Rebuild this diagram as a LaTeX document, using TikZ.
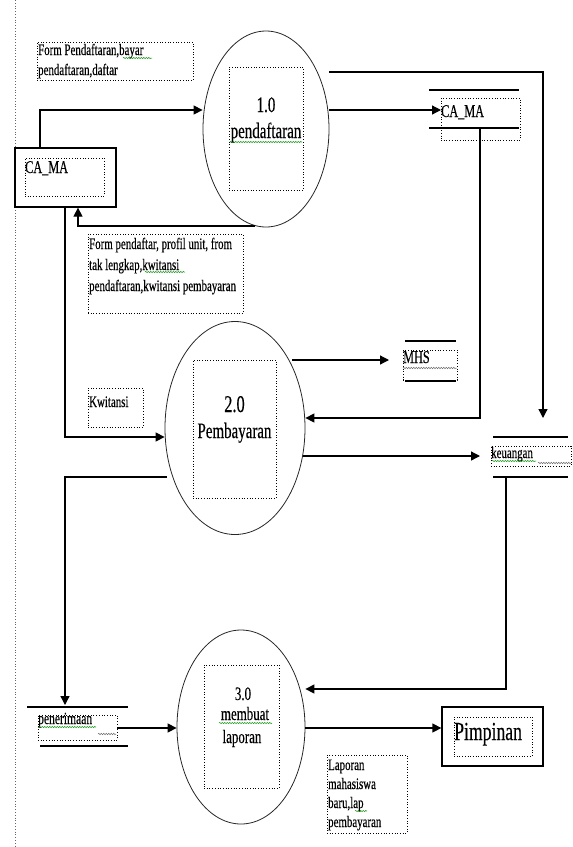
\documentclass[tikz,border=0pt]{standalone}
\usepackage{fontspec}
\setmainfont[FakeStretch=0.68,FakeBold=0.3]{Liberation Serif}
\usetikzlibrary{arrows.meta,shapes.geometric,decorations.pathmorphing}
\begin{document}
\begin{tikzpicture}[x=1pt,y=-1pt,
  flow/.style={line width=1.3pt,-{Triangle[length=9pt,width=9pt]}},
  proc/.style={ellipse,draw=black!85,line width=0.8pt,inner sep=0pt},
  dbox/.style={draw,dotted,line width=0.7pt,inner sep=0pt,rectangle},
  ent/.style={draw,line width=1.3pt,inner sep=0pt,rectangle},
  tl/.style={anchor=base west,inner sep=0pt,font=\fontsize{16}{20}\selectfont},
  tc/.style={anchor=base,inner sep=0pt},
  stline/.style={line width=1.3pt},
  spell/.style={draw=green!55!black,line width=0.5pt,decorate,decoration={snake,segment length=2.5pt,amplitude=0.6pt}},
  gram/.style={draw=black!55,line width=0.5pt,decorate,decoration={snake,segment length=2.5pt,amplitude=0.8pt}}
]
\useasboundingbox (0,0) rectangle (573,847);
% left dotted margin line
\draw[dotted,line width=0.8pt,black!60] (15,0) -- (15,847);

% ---------- processes ----------
\node[proc,minimum width=126pt,minimum height=196pt] (p1) at (266,129) {};
\node[dbox,minimum width=74pt,minimum height=123pt] (p1in) at (266,128.5) {};
\node[tc,font=\fontsize{22}{26}\selectfont] (p1a) at (266,112) {1.0};
\node[tc,font=\fontsize{22}{26}\selectfont] (p1b) at (266,138) {pendaftaran};
\path[spell] (230,142) -- (302,142);

\node[proc,minimum width=140pt,minimum height=213pt] (p2) at (235,428) {};
\node[dbox,minimum width=83pt,minimum height=138pt] (p2in) at (234.5,429) {};
\node[tc,font=\fontsize{24}{28}\selectfont] (p2a) at (234.5,412) {2.0};
\node[tc,font=\fontsize{22}{28}\selectfont] (p2b) at (234.5,438) {Pembayaran};

\node[proc,minimum width=128pt,minimum height=194pt] (p3) at (241,727) {};
\node[dbox,minimum width=75pt,minimum height=123pt] (p3in) at (241.5,726.5) {};
\node[tc,font=\fontsize{19}{22}\selectfont] (p3a) at (243,700) {3.0};
\node[tc,font=\fontsize{19}{22}\selectfont] (p3b) at (245,720) {membuat};
\node[tc,font=\fontsize{19}{22}\selectfont] (p3c) at (242,743) {laporan};
\path[spell] (219,723) -- (272,723);

% ---------- external entities ----------
\node[ent,minimum width=101pt,minimum height=59pt] (ca) at (65.5,177.5) {};
\node[dbox,minimum width=79pt,minimum height=38pt] (cain) at (64.5,177) {};
\node[tl,font=\fontsize{18}{20}\selectfont] (cat) at (25,173) {CA\_MA};

\node[ent,minimum width=101pt,minimum height=59pt] (pim) at (492.5,736.5) {};
\node[dbox,minimum width=78pt,minimum height=39pt] (pimin) at (493,736.5) {};
\node[tl,font=\fontsize{26}{28}\selectfont] (pimt) at (454,740) {Pimpinan};

% ---------- data stores ----------
% CA_MA store
\node[dbox,minimum width=79pt,minimum height=42pt] (s1) at (480.5,119) {};
\node[tl,font=\fontsize{18}{20}\selectfont] (s1t) at (441,117) {CA\_MA};
\draw[stline] (429,90) -- (519,90);
\draw[stline] (429,128) -- (519,128);
% MHS store
\node[dbox,minimum width=54pt,minimum height=30pt] (s2) at (430,365) {};
\node[tl,font=\fontsize{18}{20}\selectfont] (s2t) at (403,363) {MHS};
\path[gram] (403,368) -- (457,368);
\draw[stline] (405,341) -- (456,341);
\draw[stline] (405,381) -- (456,381);
% keuangan store
\node[dbox,minimum width=80pt,minimum height=20pt] (s3) at (531,456) {};
\node[tl,font=\fontsize{16}{18}\selectfont] (s3t) at (491,458) {keuangan};
\path[spell] (492,461) -- (536,461);
\path[gram] (538,463) -- (571,463);
\draw[stline] (493,437) -- (568,437);
\draw[stline] (493,477) -- (568,477);
% penerimaan store
\node[dbox,minimum width=79pt,minimum height=25pt] (s4) at (77.5,727.5) {};
\node[tl,font=\fontsize{17}{18}\selectfont] (s4t) at (38,724) {penerimaan};
\path[spell] (39,727) -- (96,727);
\path[gram] (98,734) -- (116,734);
\draw[stline] (27,707) -- (128,707);
\draw[stline] (40,746) -- (128,746);

% ---------- flow labels ----------
\node[dbox,minimum width=156pt,minimum height=38pt] (l1) at (115,61) {};
\node[tl] (l1a) at (38,55) {Form Pendaftaran,bayar};
\node[tl] (l1b) at (38,75) {pendaftaran,daftar};
\path[spell] (123,58) -- (152,58);

\node[dbox,minimum width=155pt,minimum height=79pt] (l2) at (165.5,273.5) {};
\node[tl] (l2a) at (89,249) {Form pendaftar, profil unit, from};
\node[tl] (l2b) at (89,270) {tak lengkap,kwitansi};
\node[tl] (l2c) at (89,291) {pendaftaran,kwitansi pembayaran};
\path[spell] (145,272) -- (185,272);

\node[dbox,minimum width=55pt,minimum height=39pt] (l3) at (115.5,407.5) {};
\node[tl] (l3a) at (89,407) {Kwitansi};

\node[dbox,minimum width=80pt,minimum height=78pt] (l4) at (367,794) {};
\node[tl] (l4a) at (328,770) {Laporan};
\node[tl] (l4b) at (328,789) {mahasiswa};
\node[tl] (l4c) at (328,808) {baru,lap};
\node[tl] (l4d) at (328,827) {pembayaran};
\path[spell] (355,811) -- (367,811);

% ---------- coordinates ----------
\coordinate (c1) at (40,110);
\coordinate (c1e) at (441,110);
\coordinate (c2s) at (255,226);
\coordinate (c2) at (78,226);
\coordinate (c3s) at (329,72);
\coordinate (c3a) at (543,72);
\coordinate (c3e) at (543,418);
\coordinate (c5s) at (480,128);
\coordinate (c5) at (480,418);
\coordinate (c6) at (65,437);
\coordinate (c7s) at (292,360);
\coordinate (c7e) at (389,360);
\coordinate (c8s) at (303,456);
\coordinate (c8e) at (480,456);
\coordinate (c9s) at (167,477);
\coordinate (c9) at (65,477);
\coordinate (c9e) at (65,705);
\coordinate (c10s) at (506,477);
\coordinate (c10) at (506,689);

% ---------- connectors ----------
\draw[flow] (ca.north -| c1) -- (c1) -- (c1 -| p1.west);
\draw[flow] (c2s) -- (c2) -- (c2 |- ca.south);
\draw[flow] (p1.east |- c1) -- (c1e);
\draw[flow] (c3s) -- (c3a) -- (c3e);
\draw[flow] (c5s) -- (c5) -- (p2.east |- c5);
\draw[flow] (ca.south -| c6) -- (c6) -- (p2.west |- c6);
\draw[flow] (c7s) -- (c7e);
\draw[flow] (c8s) -- (c8e);
\draw[flow] (c9s) -- (c9) -- (c9e);
\draw[flow] (c10s) -- (c10) -- (p3.east |- c10);
\draw[flow] (s4.east |- 0,728) -- (p3.west |- 0,728);
\draw[flow] (p3.east |- 0,728) -- (pim.west |- 0,728);
\end{tikzpicture}
\end{document}
